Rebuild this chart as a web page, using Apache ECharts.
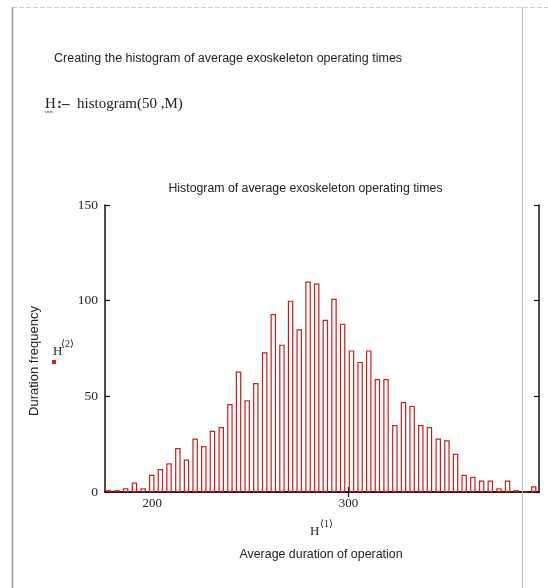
<!DOCTYPE html>
<html>
<head>
<meta charset="utf-8">
<script src="https://cdn.jsdelivr.net/npm/echarts@6/dist/echarts.min.js"></script>
<style>
  html, body { margin: 0; padding: 0; background: #fff; }
  #chart { width: 548px; height: 588px; }
</style>
</head>
<body>
<div id="chart"></div>
<script>
// bin midpoints (H<1>)
const binMids = [
  177.7, 182.1, 186.5, 191.0, 195.4, 199.8, 204.2, 208.6, 213.1, 217.5,
  221.9, 226.3, 230.7, 235.2, 239.6, 244.0, 248.4, 252.8, 257.3, 261.7,
  266.1, 270.5, 274.9, 279.4, 283.8, 288.2, 292.6, 297.0, 301.5, 305.9,
  310.3, 314.7, 319.1, 323.6, 328.0, 332.4, 336.8, 341.2, 345.7, 350.1,
  354.5, 358.9, 363.3, 367.8, 372.2, 376.6, 381.0, 385.4, 389.9, 394.3
]
// frequencies (H<2>)
const frequencies = [
  1, 1, 2, 5, 2, 9, 12, 15, 23, 17,
  28, 24, 32, 34, 46, 63, 48, 57, 73, 93,
  77, 100, 85, 110, 109, 90, 101, 88, 74, 68,
  74, 59, 59, 35, 47, 45, 35, 34, 28, 27,
  20, 9, 8, 6, 6, 2, 6, 1, 0, 3
]
const xTickValues = [200, 300]
const xTopTickValues = [300]

const SANS = '"Liberation Sans", Arial, sans-serif'
const SERIF = '"Liberation Serif", "DejaVu Serif", serif'
const AXIS = '#111'
const BAR = '#c81e1e'

let chart = echarts.init(document.getElementById('chart'))

const frameAxis = {
  axisLine: { show: true, lineStyle: { color: AXIS, width: 1.5 } },
  axisTick: { show: true, inside: true, length: 5, lineStyle: { color: AXIS, width: 1.2 } },
  splitLine: { show: false }
}

let option = {
  backgroundColor: '#fff',
  animation: false,
  grid: { left: 105, right: 9, top: 205, bottom: 96 },
  xAxis: [
    Object.assign({}, frameAxis, {
      type: 'value', position: 'bottom', min: 176, max: 397,
      axisTick: Object.assign({}, frameAxis.axisTick, { customValues: xTickValues }),
      axisLabel: { customValues: xTickValues, margin: 5, color: '#222', fontFamily: SERIF, fontSize: 13 }
    }),
    Object.assign({}, frameAxis, {
      type: 'value', position: 'top', min: 176, max: 397,
      axisTick: Object.assign({}, frameAxis.axisTick, { customValues: xTopTickValues }),
      axisLabel: { show: false }
    })
  ],
  yAxis: [
    Object.assign({}, frameAxis, {
      type: 'value', position: 'left', min: 0, max: 150, interval: 50,
      axisLabel: { margin: 7, color: '#222', fontFamily: SERIF, fontSize: 13.5 }
    }),
    Object.assign({}, frameAxis, {
      type: 'value', position: 'right', min: 0, max: 150, interval: 50,
      axisLabel: { show: false }
    })
  ],
  series: [{
    type: 'bar',
    xAxisIndex: 0,
    yAxisIndex: 0,
    barWidth: 5.5,
    data: binMids.map((x, i) => [x, frequencies[i]]),
    itemStyle: { color: '#fff', borderColor: BAR, borderWidth: 1.2 },
    z: 1
  }],
  graphic: [
    // Mathcad page borders
    { type: 'line', z: 100, shape: { x1: 12, y1: 7.5, x2: 548, y2: 7.5 },
      style: { stroke: '#cfcfcf', lineWidth: 1, lineDash: [5, 2] } },
    { type: 'line', z: 100, shape: { x1: 12.5, y1: 7, x2: 12.5, y2: 588 },
      style: { stroke: '#9a9a9a', lineWidth: 1.5 } },
    { type: 'line', z: 100, shape: { x1: 522.5, y1: 7, x2: 522.5, y2: 588 },
      style: { stroke: '#bdbdbd', lineWidth: 1 } },
    // worksheet text
    { type: 'text', style: { text: 'Creating the histogram of average exoskeleton operating times',
      x: 54, y: 59, align: 'left', verticalAlign: 'middle', fill: '#222',
      font: '12.5px ' + SANS } },
    { type: 'text', style: { text: 'H', x: 45, y: 104, verticalAlign: 'middle', fill: '#222', font: '15px ' + SERIF } },
    { type: 'text', style: { text: ':\u2013', x: 57, y: 104, verticalAlign: 'middle', fill: '#222', font: 'bold 15px ' + SERIF } },
    { type: 'text', style: { text: 'histogram(50 ,M)', x: 77, y: 104, verticalAlign: 'middle', fill: '#222', font: '15px ' + SERIF } },
    { type: 'polyline', shape: { points: [[45, 111], [46.5, 113], [48, 111], [49.5, 113], [51, 111], [52.5, 113]] },
      style: { stroke: '#3a9a3a', lineWidth: 1, fill: null } },
    // plot title
    { type: 'text', style: { text: 'Histogram of average exoskeleton operating times',
      x: 305.5, y: 189, align: 'center', verticalAlign: 'middle', fill: '#222', font: '12.3px ' + SANS } },
    // y axis labels
    { type: 'text', x: 34, y: 361, rotation: Math.PI / 2,
      style: { text: 'Duration frequency', x: 0, y: 0, align: 'center', verticalAlign: 'middle',
        fill: '#222', font: '13px ' + SANS } },
    { type: 'text', style: { text: 'H', x: 53, y: 352, verticalAlign: 'middle', fill: '#222', font: '13px ' + SERIF } },
    { type: 'text', style: { text: '\u27E82\u27E9', x: 61, y: 344, verticalAlign: 'middle', fill: '#222', font: '10px ' + SERIF } },
    { type: 'rect', shape: { x: 52, y: 360, width: 4, height: 4 }, style: { fill: '#d02020' } },
    // x axis labels
    { type: 'text', style: { text: 'H', x: 310, y: 532, verticalAlign: 'middle', fill: '#222', font: '13px ' + SERIF } },
    { type: 'text', style: { text: '\u27E81\u27E9', x: 320, y: 524, verticalAlign: 'middle', fill: '#222', font: '10px ' + SERIF } },
    { type: 'text', style: { text: 'Average duration of operation',
      x: 321, y: 555, align: 'center', verticalAlign: 'middle', fill: '#222', font: '12.4px ' + SANS } }
  ]
}

chart.setOption(option, true)
</script>
</body>
</html>
